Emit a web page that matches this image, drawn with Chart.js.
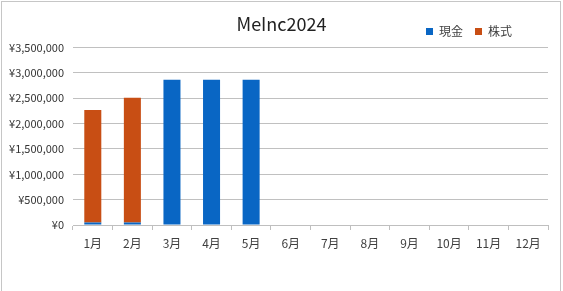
<!DOCTYPE html>
<html>
<head>
<meta charset="utf-8">
<script src="https://cdn.jsdelivr.net/npm/chart.js@4"></script>
<style>
  body { margin:0; background:#fff; }
  #wrap { position:relative; width:563px; height:291px; }
  #frame { position:absolute; left:1px; top:1px; width:558px; height:300px; border:1px solid #c6c6c6; pointer-events:none; }
</style>
</head>
<body>
<div id="wrap">
  <canvas id="myChart" width="563" height="291"></canvas>
  <div id="frame"></div>
</div>
<script>
// data
const months = ['1月','2月','3月','4月','5月','6月','7月','8月','9月','10月','11月','12月'];
const cash   = [50000, 50000, 2865000, 2865000, 2865000, null, null, null, null, null, null, null];
const stock  = [2220000, 2460000, null, null, null, null, null, null, null, null, null, null];
const yTicks = [0, 500000, 1000000, 1500000, 2000000, 2500000, 3000000, 3500000];

const fnt = "'Noto Sans CJK JP', 'Noto Sans', sans-serif";
const yen = v => '¥' + v.toLocaleString('en-US');

// nudge title to the full-width centre and legend a bit left, like the original
const shiftBoxes = {
  id: 'shiftBoxes',
  afterLayout(chart) {
    chart.titleBlock.right += 15;
    chart.legend.right -= 24;
  }
};

const ctx = document.getElementById('myChart').getContext('2d');
new Chart(ctx, {
  type: 'bar',
  data: {
    labels: months,
    datasets: [
      { label: '現金', data: cash, backgroundColor: '#0966C4' },
      { label: '株式', data: stock, backgroundColor: '#C84E14' }
    ]
  },
  options: {
    responsive: false,
    animation: false,
    layout: { padding: { top: 7, right: 15, bottom: 26, left: 0 } },
    datasets: { bar: { categoryPercentage: 1, barPercentage: 0.43 } },
    plugins: {
      title: {
        display: true, text: 'MeInc2024', color: '#222',
        font: { family: fnt, size: 18, weight: 'normal' },
        padding: { top: 6, bottom: -21 }
      },
      legend: {
        position: 'top', align: 'end',
        labels: {
          boxWidth: 7, boxHeight: 7, color: '#404040', padding: 12,
          font: { family: fnt, size: 12 }
        }
      },
      tooltip: { enabled: false }
    },
    scales: {
      x: {
        stacked: true, z: -1,
        grid: { offset: true, drawOnChartArea: false, drawTicks: true, tickLength: 5, color: '#bfbfbf' },
        border: { color: '#bfbfbf' },
        ticks: { color: '#404040', font: { family: fnt, size: 12 }, padding: 6 },
        afterFit: s => { s.height = 40; }
      },
      y: {
        stacked: true, min: 0, max: 3500000,
        afterBuildTicks: s => { s.ticks = yTicks.map(v => ({ value: v })); },
        grid: { color: '#c0c0c0', drawTicks: false },
        border: { display: false },
        ticks: { color: '#333', font: { family: fnt, size: 11 }, padding: 9, callback: v => yen(v) },
        afterFit: s => { s.width = 73; }
      }
    }
  },
  plugins: [shiftBoxes]
});
</script>
</body>
</html>
